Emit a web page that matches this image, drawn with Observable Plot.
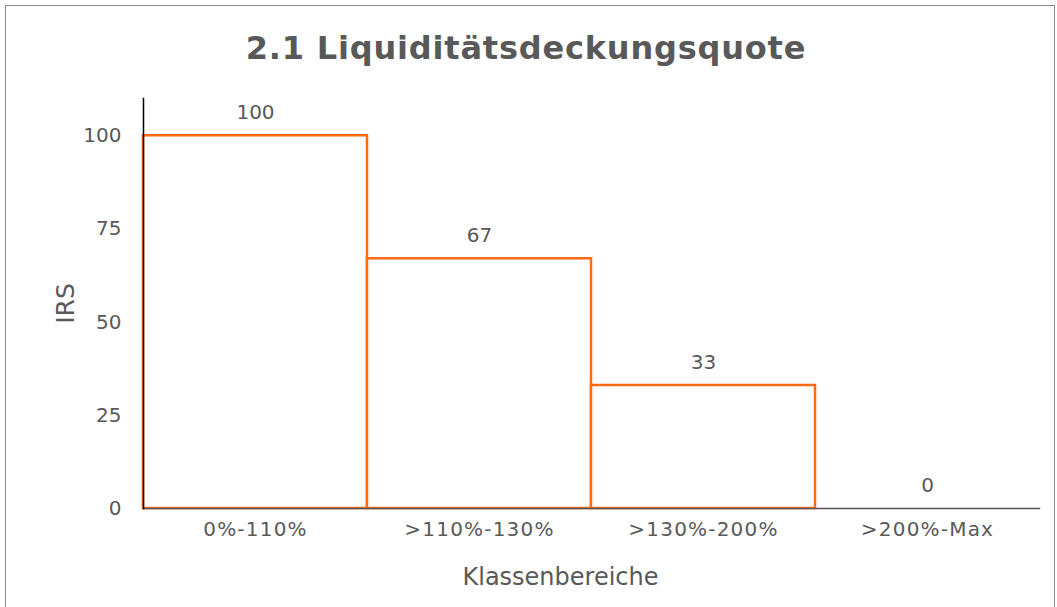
<!DOCTYPE html>
<html><head><meta charset="utf-8">
<script src="https://cdn.jsdelivr.net/npm/d3@7"></script>
<script src="https://cdn.jsdelivr.net/npm/@observablehq/plot@0.6"></script>
<style>
body{margin:0;background:#fff;}
#wrap{position:relative;width:1057px;height:607px;overflow:hidden;font-family:"DejaVu Sans",Verdana,sans-serif;}
#frame{position:absolute;left:5px;top:5px;width:1050px;height:620px;border:1px solid #8c8c8c;box-sizing:border-box;}
#title{position:absolute;left:0;width:1052px;top:28px;text-align:center;font-weight:bold;font-size:32px;letter-spacing:0.8px;color:#595959;line-height:40px;}
#chart{position:absolute;left:0;top:0;}
#chart g[aria-label="x-axis tick label"] text{letter-spacing:1.2px;}
</style></head>
<body><div id="wrap"><div id="frame"></div><div id="title">2.1 Liquiditätsdeckungsquote</div><div id="chart"></div></div>
<script>
const categories = ["0%-110%", ">110%-130%", ">130%-200%", ">200%-Max"];
const values = [100, 67, 33, 0];
const yTicks = [0, 25, 50, 75, 100];
const data = categories.map((c, i) => ({cat: c, val: values[i]}));
const orange = "#ff6a13";
const textColor = "#595959";

const plot = Plot.plot({
  width: 1057, height: 607,
  marginTop: 98, marginBottom: 99, marginLeft: 143, marginRight: 18,
  style: {fontFamily: "DejaVu Sans, Verdana, sans-serif", fontSize: "20px", color: textColor, background: "transparent"},
  x: {domain: categories, padding: 0},
  y: {domain: [0, 110]},
  marks: [
    Plot.barY(data, {x: "cat", y: "val", filter: d => d.val > 0, fill: "white", stroke: orange, strokeWidth: 2.5}),
    Plot.frame({anchor: "bottom", stroke: "#555", strokeWidth: 1.5}),
    Plot.frame({anchor: "left", stroke: "#000", strokeWidth: 1.5}),
    Plot.axisY({ticks: yTicks, tickSize: 0, tickPadding: 22, label: null, fill: textColor, fontSize: 20}),
    Plot.axisX({tickSize: 0, tickPadding: 13, label: null, fill: textColor, fontSize: 20}),
    Plot.text(data, {x: "cat", y: "val", text: d => String(d.val), dy: -23, fill: textColor, fontSize: 20}),
    Plot.text(["IRS"], {text: d => d, frameAnchor: "left", textAnchor: "middle", lineAnchor: "middle", dx: -78, rotate: -90, fill: textColor, fontSize: 25}),
    Plot.text(["Klassenbereiche"], {text: d => d, frameAnchor: "bottom", textAnchor: "middle", lineAnchor: "middle", dx: -31, dy: 69, fill: textColor, fontSize: 24})
  ]
});
document.getElementById("chart").appendChild(plot);
</script></body></html>
